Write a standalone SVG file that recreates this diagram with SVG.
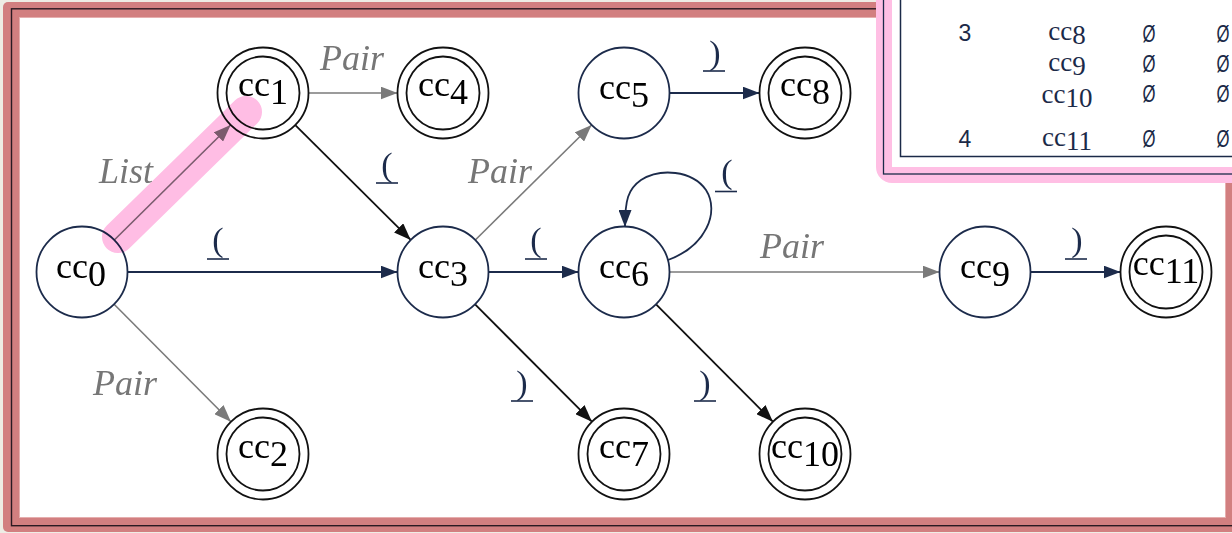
<svg xmlns="http://www.w3.org/2000/svg" width="1232" height="533" viewBox="0 0 1232 533">
  <defs>
    <style>
      .node-s { fill: #ffffff; stroke: #1c2b4b; stroke-width: 1.8; }
      .node-d { fill: #ffffff; stroke: #111111; stroke-width: 1.8; }
      .lbl { font-family: "Liberation Serif", "Times New Roman", serif; font-size: 36px; fill: #000000; text-anchor: middle; }
      .e-navy { stroke: #1c2b4b; stroke-width: 1.8; fill: none; marker-end: url(#arr-navy); }
      .e-black { stroke: #111111; stroke-width: 1.8; fill: none; marker-end: url(#arr-black); }
      .e-gray { stroke: #7a7a7a; stroke-width: 1.6; fill: none; marker-end: url(#arr-gray); }
      .elbl { font-family: "Liberation Serif", "Times New Roman", serif; font-size: 36px; font-style: italic; fill: #767676; }
      .sym { font-family: "Liberation Serif", "Times New Roman", serif; font-size: 34px; fill: #1c2b4b; text-anchor: middle; }
      .uline { stroke: #1c2b4b; stroke-width: 1.6; }
      .tnum { font-family: "Liberation Sans", Arial, sans-serif; font-size: 23px; fill: #1b2a48; text-anchor: middle; }
      .tcc { font-family: "Liberation Serif", "Times New Roman", serif; font-size: 27px; fill: #1b2a48; text-anchor: middle; }
      .tnil { font-family: "Liberation Sans", Arial, sans-serif; font-size: 24px; fill: #1b2a48; text-anchor: middle; }
    </style>
    <marker id="arr-navy" markerUnits="userSpaceOnUse" markerWidth="18" markerHeight="13" refX="17" refY="6.5" orient="auto">
      <path d="M0,0 L17,6.5 L0,13 z" fill="#1c2b4b"/>
    </marker>
    <marker id="arr-black" markerUnits="userSpaceOnUse" markerWidth="18" markerHeight="13" refX="17" refY="6.5" orient="auto">
      <path d="M0,0 L17,6.5 L0,13 z" fill="#111111"/>
    </marker>
    <marker id="arr-gray" markerUnits="userSpaceOnUse" markerWidth="18" markerHeight="13" refX="17" refY="6.5" orient="auto">
      <path d="M0,0 L17,6.5 L0,13 z" fill="#7a7a7a"/>
    </marker>
  </defs>

  <!-- page background and framed canvas -->
  <rect x="0" y="0" width="1232" height="533" fill="#eeede5"/>
  <rect x="3" y="2" width="1250" height="530" rx="5" fill="#d27f80"/>
  <rect x="11.5" y="8.8" width="1222" height="516.9" fill="none" stroke="#2a1a22" stroke-width="1.4"/>
  <rect x="19.5" y="17.5" width="1206" height="500" fill="#ffffff" stroke="#e6aeae" stroke-width="1"/>

  <!-- connectors -->
  <g id="connectors">
    <line id="e-cc0-cc1" class="e-gray" x1="114.3" y1="240" x2="230.6" y2="125"/>
    <line id="e-cc0-cc3" class="e-navy" x1="127.5" y1="272" x2="397.5" y2="272"/>
    <line id="e-cc0-cc2" class="e-gray" x1="114.1" y1="304.3" x2="230.9" y2="421.7"/>
    <line id="e-cc1-cc4" class="e-gray" x1="308.5" y1="93" x2="397.5" y2="93"/>
    <line id="e-cc1-cc3" class="e-black" x1="295.3" y1="125.1" x2="410.7" y2="239.9"/>
    <line id="e-cc3-cc5" class="e-gray" x1="475.3" y1="240" x2="591.6" y2="125"/>
    <line id="e-cc3-cc6" class="e-navy" x1="488.5" y1="272" x2="578.5" y2="272"/>
    <line id="e-cc3-cc7" class="e-black" x1="475.1" y1="304.3" x2="591.9" y2="421.7"/>
    <line id="e-cc5-cc8" class="e-navy" x1="669.5" y1="93" x2="759.5" y2="93"/>
    <path id="e-cc6-cc6" class="e-navy" d="M668,260 C706,246 720,212 706,190 C692,170 660,168 641,180 C628,189 625,200 625,227"/>
    <line id="e-cc6-cc9" class="e-gray" x1="669.5" y1="272" x2="939.5" y2="272"/>
    <line id="e-cc6-cc10" class="e-black" x1="656.1" y1="304.3" x2="772.9" y2="421.7"/>
    <line id="e-cc9-cc11" class="e-navy" x1="1030.5" y1="272" x2="1120.5" y2="272"/>

    <!-- edge labels -->
    <text class="elbl" x="99" y="183">List</text>
    <text class="elbl" x="320" y="70">Pair</text>
    <text class="elbl" x="93" y="395">Pair</text>
    <text class="elbl" x="468" y="183">Pair</text>
    <text class="elbl" x="760" y="258">Pair</text>

    <text class="sym" x="218" y="251">(</text>
    <line class="uline" x1="207" y1="259" x2="229" y2="259"/>
    <text class="sym" x="387" y="176">(</text>
    <line class="uline" x1="376" y1="183" x2="398" y2="183"/>
    <text class="sym" x="536" y="251">(</text>
    <line class="uline" x1="525" y1="259" x2="547" y2="259"/>
    <text class="sym" x="727" y="183">(</text>
    <line class="uline" x1="715" y1="191.5" x2="737" y2="191.5"/>
    <text class="sym" x="715" y="64">)</text>
    <line class="uline" x1="703" y1="71" x2="725" y2="71"/>
    <text class="sym" x="1077" y="251">)</text>
    <line class="uline" x1="1065" y1="259" x2="1087" y2="259"/>
    <text class="sym" x="522" y="394">)</text>
    <line class="uline" x1="511" y1="401" x2="533" y2="401"/>
    <text class="sym" x="705" y="394">)</text>
    <line class="uline" x1="694" y1="401" x2="716" y2="401"/>
  </g>

  <!-- nodes -->
  <g id="cc0"><circle class="node-s" cx="82" cy="272" r="45.5"/><text class="lbl" x="81" y="278">cc<tspan dy="8">0</tspan></text></g>
  <g id="cc1"><circle class="node-d" cx="263" cy="93" r="45.5"/><circle class="node-d" cx="263" cy="93" r="36.5"/><text class="lbl" x="263" y="96">cc<tspan dy="8">1</tspan></text></g>
  <g id="cc2"><circle class="node-d" cx="263" cy="454" r="45.5"/><circle class="node-d" cx="263" cy="454" r="36.5"/><text class="lbl" x="263" y="458">cc<tspan dy="8">2</tspan></text></g>
  <g id="cc3"><circle class="node-s" cx="443" cy="272" r="45.5"/><text class="lbl" x="443" y="278">cc<tspan dy="8">3</tspan></text></g>
  <g id="cc4"><circle class="node-d" cx="443" cy="93" r="45.5"/><circle class="node-d" cx="443" cy="93" r="36.5"/><text class="lbl" x="443" y="96">cc<tspan dy="8">4</tspan></text></g>
  <g id="cc5"><circle class="node-s" cx="624" cy="93" r="45.5"/><text class="lbl" x="624" y="99">cc<tspan dy="8">5</tspan></text></g>
  <g id="cc6"><circle class="node-s" cx="624" cy="272" r="45.5"/><text class="lbl" x="624" y="278">cc<tspan dy="8">6</tspan></text></g>
  <g id="cc7"><circle class="node-d" cx="624" cy="454" r="45.5"/><circle class="node-d" cx="624" cy="454" r="36.5"/><text class="lbl" x="624" y="458">cc<tspan dy="8">7</tspan></text></g>
  <g id="cc8"><circle class="node-d" cx="805" cy="93" r="45.5"/><circle class="node-d" cx="805" cy="93" r="36.5"/><text class="lbl" x="805" y="96">cc<tspan dy="8">8</tspan></text></g>
  <g id="cc9"><circle class="node-s" cx="985" cy="272" r="45.5"/><text class="lbl" x="985" y="278">cc<tspan dy="8">9</tspan></text></g>
  <g id="cc10"><circle class="node-d" cx="805" cy="454" r="45.5"/><circle class="node-d" cx="805" cy="454" r="36.5"/><text class="lbl" x="805" y="458">cc<tspan dy="8">10</tspan></text></g>
  <g id="cc11"><circle class="node-d" cx="1166" cy="272" r="45.5"/><circle class="node-d" cx="1166" cy="272" r="36.5"/><text class="lbl" x="1166" y="275">cc<tspan dy="8">11</tspan></text></g>

  <!-- highlighted transition (marker pen over the List edge) -->
  <line x1="118" y1="237" x2="246" y2="112" stroke="#ffbde4" stroke-width="32" stroke-linecap="round" style="mix-blend-mode: multiply"/>

  <!-- table panel -->
  <g id="table">
    <rect x="884" y="-40" width="400" height="215" rx="8" fill="#ffffff" stroke="#ffbfe4" stroke-width="16"/>
    <rect x="883.5" y="-40" width="400" height="214" fill="none" stroke="#1b2a48" stroke-width="1.3"/>
    <rect x="900.5" y="-40" width="400" height="196.5" fill="#ffffff" stroke="#1b2a48" stroke-width="1.5"/>

    <text class="tnum" x="965" y="41">3</text>
    <text class="tcc" x="1067" y="40">cc<tspan dy="4">8</tspan></text>
    <text class="tnil" x="1149" y="42" textLength="13" lengthAdjust="spacingAndGlyphs">Ø</text>
    <text class="tnil" x="1223" y="42" textLength="13" lengthAdjust="spacingAndGlyphs">Ø</text>

    <text class="tcc" x="1067" y="71">cc<tspan dy="4">9</tspan></text>
    <text class="tnil" x="1149" y="72" textLength="13" lengthAdjust="spacingAndGlyphs">Ø</text>
    <text class="tnil" x="1223" y="72" textLength="13" lengthAdjust="spacingAndGlyphs">Ø</text>

    <text class="tcc" x="1067" y="103">cc<tspan dy="4">10</tspan></text>
    <text class="tnil" x="1149" y="102" textLength="13" lengthAdjust="spacingAndGlyphs">Ø</text>
    <text class="tnil" x="1223" y="102" textLength="13" lengthAdjust="spacingAndGlyphs">Ø</text>

    <text class="tnum" x="965" y="147">4</text>
    <text class="tcc" x="1067" y="146">cc<tspan dy="4">11</tspan></text>
    <text class="tnil" x="1149" y="147" textLength="13" lengthAdjust="spacingAndGlyphs">Ø</text>
    <text class="tnil" x="1223" y="147" textLength="13" lengthAdjust="spacingAndGlyphs">Ø</text>
  </g>
</svg>
